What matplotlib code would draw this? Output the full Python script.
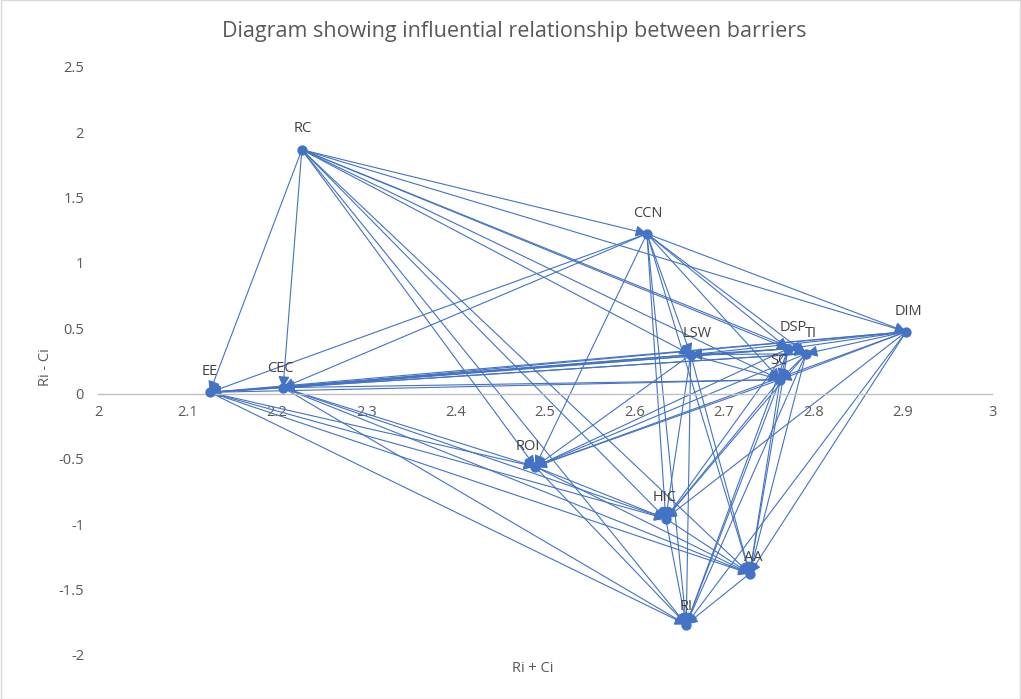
import matplotlib
matplotlib.use("Agg")
import matplotlib.pyplot as plt
from matplotlib.patches import Rectangle
from matplotlib.ticker import FuncFormatter, MultipleLocator

# ---- data ----
nodes = ["RC", "CCN", "DIM", "DSP", "TI", "LSW", "SC", "CEC", "EE", "ROI", "HIC", "AA", "RI"]
ri_plus_ci = [2.228, 2.614, 2.904, 2.772, 2.792, 2.663, 2.763, 2.207, 2.125, 2.489, 2.635, 2.729, 2.658]
ri_minus_ci = [1.867, 1.224, 0.474, 0.344, 0.306, 0.298, 0.107, 0.046, 0.010, -0.559, -0.956, -1.377, -1.767]

influences = {
    "RC":  ["CCN", "DIM", "DSP", "TI", "LSW", "SC", "CEC", "EE", "ROI", "HIC", "AA", "RI"],
    "CCN": ["DIM", "DSP", "TI", "LSW", "SC", "CEC", "EE", "ROI", "HIC", "AA", "RI"],
    "DIM": ["DSP", "TI", "LSW", "SC", "CEC", "EE", "ROI", "HIC", "AA", "RI"],
    "DSP": ["TI", "LSW", "SC", "CEC", "EE", "ROI", "HIC", "AA", "RI"],
    "TI":  ["LSW", "SC", "CEC", "EE", "ROI", "HIC", "AA", "RI"],
    "LSW": ["SC", "CEC", "EE", "ROI", "HIC", "AA", "RI"],
    "SC":  ["CEC", "EE", "ROI", "HIC", "AA", "RI"],
    "CEC": ["EE", "ROI", "HIC", "AA", "RI"],
    "EE":  ["ROI", "HIC", "AA", "RI"],
    "ROI": ["HIC", "AA", "RI"],
    "HIC": ["AA", "RI"],
    "AA":  ["RI"],
}

title = "Diagram showing influential relationship between barriers"
x_label = "Ri + Ci"
y_label = "Ri - Ci"

# ---- style ----
BLUE = "#4472C4"
GREY = "#595959"
plt.rcParams["font.family"] = ["Open Sans", "DejaVu Sans"]

W, H = 1021, 699
fig = plt.figure(figsize=(W / 100, H / 100), dpi=100)
fig.patch.set_facecolor("white")
ax = fig.add_axes([98 / W, 1 - 655 / H, (992 - 98) / W, (655 - 67) / H])

ax.set_xlim(2, 3)
ax.set_ylim(-2, 2.5)

pos = {n: (x, y) for n, x, y in zip(nodes, ri_plus_ci, ri_minus_ci)}

for src, targets in influences.items():
    for tgt in targets:
        ax.annotate("", xy=pos[tgt], xytext=pos[src],
                    arrowprops=dict(arrowstyle="-|>", color=BLUE, lw=0.8,
                                    shrinkA=0, shrinkB=0, mutation_scale=17),
                    zorder=2)

ax.scatter(ri_plus_ci, ri_minus_ci, s=55, color=BLUE, zorder=3, linewidths=0)

label_offsets = {  # pixel offsets (dx, dy) of label centres
    "RC": (1, 21), "CCN": (1, 20), "DIM": (2, 20), "DSP": (5, 21), "TI": (5, 20),
    "LSW": (6, 21), "SC": (-1, 19), "CEC": (-3, 19), "EE": (0, 21), "ROI": (-7, 20),
    "HIC": (-1, 21), "AA": (4, 16), "RI": (0, 18),
}
for n in nodes:
    dx, dy = label_offsets[n]
    ax.annotate(n, xy=pos[n], xytext=(dx * 0.72, dy * 0.72), textcoords="offset points",
                ha="center", va="center", fontsize=10.5, color="#404040", zorder=4)

# axes styling
for s in ["top", "right", "left"]:
    ax.spines[s].set_visible(False)
ax.spines["bottom"].set_position(("data", 0))
ax.spines["bottom"].set_color("#BFBFBF")
ax.spines["bottom"].set_linewidth(1.0)
ax.xaxis.set_major_locator(MultipleLocator(0.1))
ax.yaxis.set_major_locator(MultipleLocator(0.5))
fmt = FuncFormatter(lambda v, p: f"{v:g}")
ax.xaxis.set_major_formatter(fmt)
ax.yaxis.set_major_formatter(fmt)
ax.tick_params(axis="both", length=0, labelsize=10.5, labelcolor=GREY)
ax.tick_params(axis="x", pad=8)
ax.tick_params(axis="y", pad=10)

fig.text(514 / W, 1 - 32 / H, title, ha="center", va="center", fontsize=15.5, color=GREY)
fig.text(533 / W, 1 - 668 / H, x_label, ha="center", va="center", fontsize=10.5, color=GREY)
fig.text(45 / W, 1 - 367 / H, y_label, ha="center", va="center", fontsize=10.5, color=GREY,
         rotation=90)

fig.patches.append(Rectangle((0.0005, 0.0005), 0.999, 0.999, transform=fig.transFigure,
                             fill=False, ec="#D9D9D9", lw=1.0))

fig.savefig("out.png", dpi=100, facecolor="white")
